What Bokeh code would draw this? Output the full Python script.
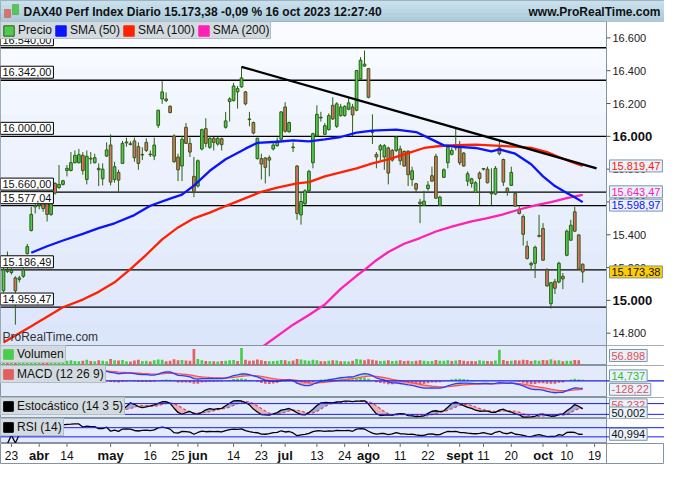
import numpy as np
import pandas as pd
from bokeh.plotting import figure
from bokeh.layouts import column
from bokeh.models import (Span, Label, BoxAnnotation, Legend, LegendItem, Range1d)
from bokeh.core.properties import value
from bokeh.embed import file_html
from bokeh.resources import INLINE

# ---------------- data ----------------
title_text = "DAX40 Perf Index Diario 15.173,38 -0,09 % 16 oct 2023 12:27:40"
site_text = "www.ProRealTime.com"

opens = [15059, 15180, 15170, 15137, 15128, 15147, 15285, 15426, 15570, 15578,
         15590, 15599, 15524, 15713, 15688, 15707, 15792, 15792, 15839, 15839,
         15884, 15737, 15866, 15839, 15805, 15741, 15880, 15947, 15737, 15780,
         15835, 15960, 15955, 15972, 15937, 15886, 15963, 15892, 15880, 16067,
         16228, 16228, 16183, 16002, 15874, 15819, 16055, 15957, 15756, 15697,
         15923, 16047, 15933, 15988, 15953, 15986, 16055, 16212, 16218, 16271,
         16301, 16271, 16106, 16084, 15864, 15864, 15868, 15870, 15923, 15943,
         15982, 16179, 16028, 15935, 15819, 15521, 15589, 15668, 15839, 16002,
         16116, 16012, 16041, 16189, 16061, 16126, 16126, 16165, 16179, 16159,
         16350, 16428, 16413, 16028, 15890, 15917, 15874, 15929, 15914, 15914,
         15923, 15908, 15910, 15737, 15711, 15599, 15579, 15682, 15760, 15878,
         15579, 15750, 15839, 15890, 15929, 15937, 15898, 15727, 15713, 15658,
         15776, 15800, 15800, 15654, 15648, 15929, 15859, 15684, 15701, 15652,
         15556, 15511, 15330, 15216, 15226, 15395, 15438, 15186, 14980, 15114,
         15112, 15147, 15275, 15367, 15540, 15399, 15220]
highs = [15206, 15298, 15196, 15147, 15150, 15200, 15344, 15570, 15590, 15610,
         15615, 15619, 15610, 15720, 15825, 15735, 15825, 15904, 15914, 15923,
         15904, 15914, 15904, 15894, 15835, 15835, 15963, 16012, 15845, 15796,
         15972, 15992, 15970, 15992, 15963, 15933, 15988, 15914, 15992, 16162,
         16336, 16267, 16189, 16012, 15894, 16002, 16081, 15992, 15874, 15859,
         16047, 16110, 16002, 15998, 15996, 15992, 16149, 16238, 16326, 16307,
         16424, 16277, 16149, 16090, 15992, 15894, 15874, 15884, 15972, 15992,
         16153, 16208, 16090, 15963, 15825, 15658, 15678, 15796, 16022, 16189,
         16149, 16081, 16140, 16238, 16208, 16198, 16189, 16238, 16198, 16405,
         16483, 16523, 16417, 16134, 15904, 15953, 15953, 15937, 15923, 16002,
         15943, 15914, 15914, 15815, 15717, 15619, 15668, 15727, 15815, 15894,
         15638, 15805, 15937, 15933, 16047, 15972, 15904, 15786, 15747, 15727,
         15786, 15806, 15815, 15805, 15819, 15972, 15864, 15688, 15815, 15658,
         15579, 15524, 15363, 15236, 15334, 15521, 15471, 15196, 15112, 15131,
         15236, 15167, 15432, 15491, 15570, 15403, 15226]
lows = [15049, 15167, 15157, 14852, 15110, 15137, 15280, 15420, 15530, 15555,
        15540, 15481, 15515, 15645, 15680, 15700, 15756, 15786, 15835, 15835,
        15766, 15707, 15831, 15835, 15697, 15701, 15874, 15701, 15717, 15662,
        15831, 15937, 15945, 15845, 15796, 15855, 15904, 15874, 15855, 16051,
        16198, 16208, 16140, 15839, 15727, 15727, 15953, 15874, 15629, 15688,
        15914, 15933, 15923, 15914, 15943, 15914, 16047, 16090, 16212, 16169,
        16297, 16189, 16061, 16012, 15859, 15737, 15713, 15756, 15914, 15937,
        15976, 16022, 16022, 15904, 15491, 15462, 15579, 15658, 15805, 16002,
        16090, 16008, 16035, 16100, 16051, 16120, 16120, 16159, 16002, 16153,
        16346, 16424, 16232, 15953, 15805, 15855, 15796, 15707, 15845, 15904,
        15825, 15815, 15697, 15697, 15658, 15471, 15575, 15668, 15721, 15619,
        15575, 15746, 15805, 15884, 15914, 15825, 15815, 15697, 15688, 15654,
        15579, 15792, 15713, 15579, 15642, 15884, 15697, 15638, 15697, 15570,
        15524, 15334, 15249, 15186, 15137, 15383, 15241, 15084, 14951, 15039,
        15104, 15069, 15269, 15363, 15418, 15186, 15108]
closes = [15186, 15177, 15182, 15059, 15137, 15186, 15328, 15524, 15578, 15590,
          15560, 15524, 15603, 15654, 15707, 15729, 15805, 15839, 15884, 15888,
          15792, 15878, 15862, 15870, 15796, 15800, 15917, 15721, 15815, 15733,
          15957, 15965, 15950, 15870, 15835, 15890, 15914, 15888, 15947, 16159,
          16271, 16218, 16145, 15845, 15796, 15982, 15957, 15904, 15662, 15851,
          16041, 15957, 15988, 15963, 15988, 15949, 16094, 16228, 16307, 16291,
          16356, 16198, 16102, 16020, 15988, 15831, 15811, 15855, 15947, 15972,
          16149, 16031, 16084, 15931, 15530, 15603, 15668, 15786, 16016, 16134,
          16112, 16065, 16126, 16106, 16198, 16179, 16183, 16204, 16130, 16401,
          16464, 16440, 16238, 16024, 15874, 15943, 15943, 15776, 15855, 15996,
          15851, 15819, 15766, 15790, 15678, 15589, 15605, 15703, 15727, 15623,
          15629, 15796, 15933, 15914, 15943, 15839, 15819, 15772, 15741, 15717,
          15743, 15804, 15717, 15650, 15805, 15894, 15721, 15662, 15780, 15574,
          15530, 15403, 15255, 15226, 15324, 15391, 15245, 15088, 15108, 15074,
          15226, 15131, 15422, 15458, 15422, 15190, 15173.38]
volumes_k = [330, 280, 250, 380, 300, 260, 270, 350, 290, 240,
             230, 300, 260, 310, 250, 220, 270, 300, 260, 240,
             280, 330, 260, 240, 300, 280, 250, 380, 300, 290,
             310, 250, 230, 290, 330, 260, 270, 230, 300, 350,
             330, 250, 280, 360, 300, 320, 290, 270, 950, 380,
             300, 260, 240, 250, 230, 260, 280, 300, 320, 260,
             1000, 330, 270, 290, 350, 300, 260, 240, 260, 280,
             320, 300, 250, 290, 380, 340, 300, 280, 330, 300,
             240, 250, 280, 300, 290, 240, 250, 230, 270, 380,
             350, 300, 360, 330, 290, 260, 280, 300, 260, 270,
             300, 260, 280, 250, 270, 300, 280, 250, 260, 310,
             280, 270, 300, 260, 290, 320, 280, 250, 260, 240,
             300, 270, 260, 250, 290, 900, 320, 260, 280, 300,
             290, 330, 320, 260, 300, 280, 320, 300, 360, 290,
             300, 250, 280, 270, 310, 300, 56.898]

sma50_idx = [7, 11, 15, 20, 24, 28, 33, 37, 42, 45, 48, 52, 56, 61, 64, 69, 73, 77, 81,
             85, 89, 93, 99, 104, 107, 111, 114, 119, 123, 125, 129, 133, 136, 139, 142, 144, 146]
sma50_val = [15290, 15330, 15365, 15405, 15440, 15470, 15520, 15577, 15620, 15645, 15700,
             15790, 15860, 15925, 15960, 15967, 15976, 15969, 15982, 15996, 16022, 16035,
             16041, 16026, 15992, 15945, 15937, 15929, 15908, 15920, 15894, 15830, 15756,
             15697, 15655, 15629, 15598.97]
sma100_idx = [0, 7, 15, 20, 24, 28, 32, 36, 40, 44, 48, 52, 56, 61, 65, 69, 74, 77, 81,
              85, 89, 93, 97, 102, 106, 110, 114, 119, 124, 129, 133, 137, 140, 143, 146]
sma100_val = [14743, 14842, 14958, 15005, 15052, 15110, 15190, 15278, 15372, 15445, 15500,
              15535, 15575, 15623, 15662, 15688, 15713, 15721, 15756, 15780, 15805, 15835,
              15859, 15898, 15929, 15941, 15947, 15949, 15943, 15937, 15929, 15904, 15874,
              15845, 15819.47]
sma200_idx = [60, 66, 73, 77, 81, 85, 89, 91, 94, 97, 101, 105, 109, 113, 118, 122, 126,
              130, 134, 138, 142, 146]
sma200_val = [14630, 14730, 14852, 14911, 14975, 15070, 15150, 15186, 15245, 15295, 15345,
              15380, 15420, 15450, 15481, 15501, 15525, 15554, 15579, 15599, 15623, 15643.47]
trend_idx = [60, 149.5]
trend_val = [16424, 15805]

levels = [16540, 16342, 16000, 15660, 15577.04, 15186.49, 14959.47]
level_labels = ["16.540,00", "16.342,00", "16.000,00", "15.660,00", "15.577,04", "15.186,49", "14.959,47"]

price_ticks = [14800, 15000, 15200, 15400, 15600, 15800, 16000, 16200, 16400, 16600]
price_tick_labels = ["14.800", "15.000", "15.200", "15.400", "15.600", "15.800", "16.000", "16.200", "16.400", "16.600"]
bold_ticks = [16000, 15000]

date_ticks = [2, 9, 16, 27, 37, 44, 49, 58, 65, 71, 79, 86, 92, 100, 107, 115, 121, 128, 136, 142, 149]
date_labels = ["23", "abr", "14", "may", "16", "25", "jun", "14", "23", "jul", "13", "24", "ago",
               "11", "22", "sept", "11", "20", "oct", "10", "19"]
month_labels = ["abr", "may", "jun", "jul", "ago", "sept", "oct"]

# ---------------- style / layout ----------------
FONT = "Liberation Sans"
W = 664
SCALE = 605 / 152.5          # pixels per trading day
XL = -0.5 - 1 / SCALE
XR = XL + W / SCALE
AX = 152.0                   # where the price-axis column begins
GREEN, RED, OUTL = "#52c952", "#e0706a", "#2d5e12"
VGREEN, VRED = "#4ccc4c", "#e06262"
C50, C100, C200 = "#0a14ff", "#ff2200", "#ff20b4"
SUB_BG = "#e3ebfb"
FRAME = "#8395a0"
LEG_BG, LEG_BORDER = "#d3dbe0", "#8ea3ae"
TAG_BG, TAG_BORDER = "#eaf1fb", "#7d97aa"

o = np.array(opens, float); h = np.array(highs, float)
l = np.array(lows, float); c = np.array(closes, float)
n = len(c)
idx = np.arange(n)
up = c >= o
vol = np.array(volumes_k, float) * 1000
vup = np.r_[True, c[1:] >= c[:-1]]

x_range = Range1d(XL, XR)


def hexcol(rgb):
    return "#%02x%02x%02x" % tuple(int(round(v)) for v in rgb)


def base_fig(hgt, yr, bg):
    f = figure(width=W, height=hgt, x_range=x_range, y_range=yr, title=None, toolbar_location=None,
               output_backend="svg", x_axis_location=None, y_axis_location=None, min_border=0)
    f.grid.visible = False
    f.background_fill_color = bg
    f.border_fill_color = "white"
    f.outline_line_color = FRAME
    return f


def right_zone(f):
    f.add_layout(BoxAnnotation(left=AX, fill_color="white", fill_alpha=1, line_alpha=0, level="underlay"))
    f.add_layout(Span(location=AX, dimension="height", line_color=FRAME, line_width=1, level="underlay"))


def icon(f, color, border=None):
    return f.quad(left=[np.nan], right=[np.nan], top=[np.nan], bottom=[np.nan],
                  fill_color=color, line_color=border or color)


def box_legend(f, items, glyph=12):
    leg = Legend(items=items, location="top_left", orientation="horizontal", margin=0, padding=1,
                 spacing=2, glyph_width=glyph, glyph_height=glyph, label_standoff=3,
                 label_text_font=FONT, label_text_font_size="12px", label_height=glyph,
                 background_fill_color=LEG_BG, background_fill_alpha=1,
                 border_line_color=LEG_BORDER, label_text_color="#111111")
    f.add_layout(leg)


def tag(f, y, txt, fg, bg=TAG_BG, dy=0):
    f.add_layout(Label(x=AX, x_offset=3, y=y, y_offset=dy, text=txt, text_color=fg,
                       text_font=FONT, text_font_size="11px", text_baseline="middle",
                       background_fill_color=bg, border_line_color=TAG_BORDER, padding=2))


# ---------------- header ----------------
hdr = figure(width=W, height=21, x_range=(0, 1), y_range=(0, 1), title=None, toolbar_location=None,
             output_backend="svg", x_axis_location=None, y_axis_location=None, min_border=0)
hdr.grid.visible = False
hdr.background_fill_color = "#bcd6e4"
hdr.border_fill_color = "#bcd6e4"
hdr.outline_line_color = "#8fa6b3"
hb = np.linspace(0, 1, 6)
hc_top = np.array([0xcd, 0xe3, 0xee]); hc_bot = np.array([0xa9, 0xc8, 0xd9])
for k in range(5):
    t = (k + 0.5) / 5
    hdr.add_layout(BoxAnnotation(bottom=hb[k], top=hb[k + 1], fill_color=hexcol(hc_bot + (hc_top - hc_bot) * t),
                                 fill_alpha=1, line_alpha=0, level="underlay"))
hdr.add_layout(BoxAnnotation(left=4, right=10, bottom=4, top=12, left_units="screen", right_units="screen",
                             bottom_units="screen", top_units="screen", fill_color=RED, fill_alpha=1,
                             line_color="#803030"))
hdr.add_layout(BoxAnnotation(left=12, right=18, bottom=7, top=17, left_units="screen", right_units="screen",
                             bottom_units="screen", top_units="screen", fill_color=GREEN, fill_alpha=1,
                             line_color="#2d5e12"))
hdr.add_layout(Label(x=23, y=10, x_units="screen", y_units="screen", text=title_text, text_font=FONT,
                     text_font_style="bold", text_font_size="12px", text_baseline="middle", text_color="#111111"))
hdr.add_layout(Label(x=W - 4, y=10, x_units="screen", y_units="screen", text=site_text, text_font=FONT,
                     text_font_style="bold", text_font_size="12px", text_baseline="middle",
                     text_align="right", text_color="#111111"))

# ---------------- main price chart ----------------
Y0, Y1 = 14725, 16700
p = base_fig(324, (Y0, Y1), "#eef3fd")
nb = 14
edges = np.linspace(Y0, Y1, nb + 1)
top_c = np.array([0xfa, 0xfc, 0xff]); bot_c = np.array([0xdb, 0xe5, 0xfa])
for k in range(nb):
    t = (k + 0.5) / nb
    p.add_layout(BoxAnnotation(bottom=edges[k], top=edges[k + 1], fill_color=hexcol(bot_c + (top_c - bot_c) * t),
                               fill_alpha=1, line_alpha=0, level="underlay"))
for lv in levels:
    p.add_layout(Span(location=lv, dimension="width", line_color="black", line_width=1.3, level="underlay"))
right_zone(p)

p.segment(x0=idx, y0=l, x1=idx, y1=h, line_color=OUTL, line_width=1)
p.vbar(x=idx, width=0.68, top=np.maximum(o, c), bottom=np.minimum(o, c),
       fill_color=[GREEN if u else RED for u in up], line_color=OUTL, line_width=1)

p.line(sma200_idx, sma200_val, line_color=C200, line_width=2.3)
p.line(sma100_idx, sma100_val, line_color=C100, line_width=2.3)
p.line(sma50_idx, sma50_val, line_color=C50, line_width=2.3)
p.line(trend_idx, trend_val, line_color="black", line_width=2.3)

for lv, txt in zip(levels, level_labels):
    p.add_layout(Label(x=0, y=lv, x_units="screen", y_offset=2, text=txt, text_font=FONT, text_font_size="11px",
                       text_baseline="bottom", text_color="#111111", background_fill_color="white",
                       border_line_color="black", padding=2))

p.add_layout(Label(x=2, y=2, x_units="screen", y_units="screen", text="ProRealTime.com", text_font=FONT,
                   text_font_size="12px", text_color="#333333"))

# price axis (drawn in the right column)
p.segment(x0=[AX] * len(price_ticks), x1=[AX + 4 / SCALE] * len(price_ticks), y0=price_ticks, y1=price_ticks,
          line_color="#555555", line_width=1)
for t, lab in zip(price_ticks, price_tick_labels):
    bold = t in bold_ticks
    p.add_layout(Label(x=AX, x_offset=6, y=t, text=lab, text_font=FONT,
                       text_font_size="13px" if bold else "11px",
                       text_font_style="bold" if bold else "normal",
                       text_baseline="middle", text_color="#111111" if bold else "#222222"))

tag(p, 15819.47, "15.819,47", C100)
tag(p, 15643.47, "15.643,47", C200, dy=3)
tag(p, 15598.97, "15.598,97", C50, dy=-3)
tag(p, 15173.38, "15.173,38", "#111111", bg="#ffcc00")

box_legend(p, [LegendItem(label=value("Precio"), renderers=[icon(p, GREEN, OUTL)]),
               LegendItem(label=value("SMA (50)"), renderers=[icon(p, C50)]),
               LegendItem(label=value("SMA (100)"), renderers=[icon(p, C100)]),
               LegendItem(label=value("SMA (200)"), renderers=[icon(p, C200)])], glyph=13)

# ---------------- volume ----------------
vf = base_fig(20, (0, 1150000), SUB_BG)
right_zone(vf)
vf.vbar(x=idx, width=0.68, top=vol, bottom=0, fill_color=[VGREEN if u else VRED for u in vup], line_alpha=0)
box_legend(vf, [LegendItem(label=value("Volumen"), renderers=[icon(vf, VGREEN)])])
tag(vf, 575000, "56.898", "#e05050")

# ---------------- MACD ----------------
def ema(x, span):
    return pd.Series(x).ewm(span=span, adjust=False).mean().to_numpy()

macd = ema(c, 12) - ema(c, 26)
sig = ema(macd, 9)
hist = macd - sig
mf = base_fig(32, (-251, 231), SUB_BG)
right_zone(mf)
mf.add_layout(Span(location=0, dimension="width", line_color="#2020e0", line_width=1.2))
mf.vbar(x=idx, width=0.68, top=hist, bottom=0, fill_color=[VGREEN if v >= 0 else VRED for v in hist], line_alpha=0)
mf.varea(x=idx, y1=macd, y2=np.maximum(macd, sig), fill_color="#f0a0a0", fill_alpha=0.8)
mf.varea(x=idx, y1=macd, y2=np.minimum(macd, sig), fill_color="#9fe09f", fill_alpha=0.8)
mf.line(idx, sig, line_color="#ff5050", line_width=1.3)
mf.line(idx, macd, line_color="#2b3cff", line_width=1.3)
box_legend(mf, [LegendItem(label=value("MACD (12 26 9)"), renderers=[icon(mf, "#e06060")])])
tag(mf, 14.737, "14,737", "#33bb33", dy=4)
tag(mf, -128.22, "-128,22", "#e05050")

# ---------------- Stochastic ----------------
raw = np.array([100 * (c[i] - l[max(0, i - 13):i + 1].min()) /
                (h[max(0, i - 13):i + 1].max() - l[max(0, i - 13):i + 1].min()) for i in range(n)])
stk = pd.Series(raw).rolling(3, min_periods=1).mean().to_numpy()
std = pd.Series(stk).rolling(5, min_periods=1).mean().to_numpy()
sf = base_fig(21, (-3, 114), SUB_BG)
right_zone(sf)
sf.add_layout(Span(location=80, dimension="width", line_color="#1a1aff", line_width=1))
sf.add_layout(Span(location=20, dimension="width", line_color="#1a1aff", line_width=1))
sf.varea(x=idx, y1=stk, y2=np.maximum(stk, std), fill_color="#e8a2b0", fill_alpha=0.8)
sf.varea(x=idx, y1=stk, y2=np.minimum(stk, std), fill_color="#8e9be0", fill_alpha=0.8)
sf.line(idx, std, line_color="#e04848", line_width=1.2, line_dash="3 2")
sf.line(idx, stk, line_color="black", line_width=1.3)
box_legend(sf, [LegendItem(label=value("Estocástico (14 3 5)"), renderers=[icon(sf, "black")])])
tag(sf, 56.232, "56,232", "#e05050", dy=3)
tag(sf, 50.002, "50,002", "#111111", dy=-4)

# ---------------- RSI ----------------
delta = np.diff(c, prepend=c[0])
ag = pd.Series(np.clip(delta, 0, None)).ewm(alpha=1 / 14, adjust=False).mean().to_numpy()
al = pd.Series(np.clip(-delta, 0, None)).ewm(alpha=1 / 14, adjust=False).mean().to_numpy()
rsi = np.where(al > 0, 100 - 100 / (1 + ag / np.where(al > 0, al, 1)), 100.0)
rf = base_fig(25, (1, 110), SUB_BG)
right_zone(rf)
rf.add_layout(Span(location=70, dimension="width", line_color="#1a1aff", line_width=1))
rf.add_layout(Span(location=30, dimension="width", line_color="#1a1aff", line_width=1))
rf.line(idx[1:], rsi[1:], line_color="black", line_width=1.3)
box_legend(rf, [LegendItem(label=value("RSI (14)"), renderers=[icon(rf, "black")])])
tag(rf, 40.994, "40,994", "#111111")

# ---------------- date axis ----------------
df = base_fig(21, (0, 1), "white")
df.segment(x0=date_ticks, x1=date_ticks, y0=[1] * len(date_ticks), y1=[0.84] * len(date_ticks),
           line_color="#666666", line_width=1)
df.add_layout(Span(location=AX, dimension="height", line_color=FRAME, line_width=1))
for t, lab in zip(date_ticks, date_labels):
    bold = lab in month_labels
    df.add_layout(Label(x=t, y=9, y_units="screen", text=lab, text_font=FONT,
                        text_font_size="13px" if bold else "12px",
                        text_font_style="bold" if bold else "normal", text_align="center",
                        text_baseline="middle", text_color="#111111"))

layout = column(hdr, p, vf, mf, sf, rf, df)
open("out.html", "w").write(file_html(layout, INLINE))
